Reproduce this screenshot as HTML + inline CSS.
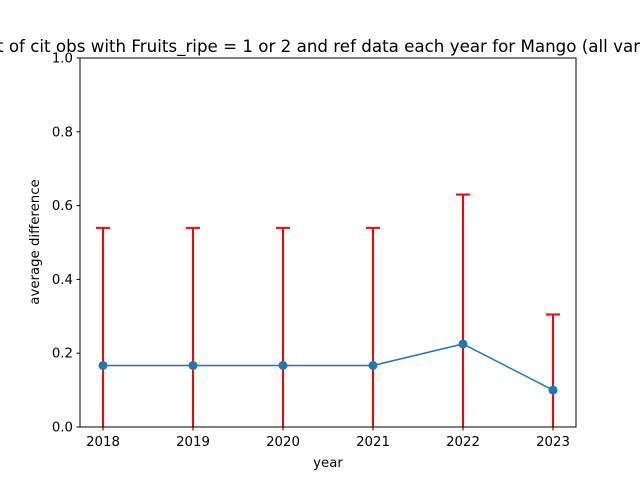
<!DOCTYPE html>
<html><head><meta charset="utf-8"><style>
body{margin:0;background:#fff}
svg text{font-family:"DejaVu Sans","Liberation Sans",sans-serif;fill:#000}
</style></head><body>
<svg width="640" height="480" viewBox="0 0 640 480" xmlns="http://www.w3.org/2000/svg">
<defs><clipPath id="ax"><rect x="80" y="58" width="496" height="369"/></clipPath></defs>
<rect x="0" y="0" width="640" height="480" fill="#fff"/>
<g id="marks" clip-path="url(#ax)"></g>
<rect x="80" y="58" width="496" height="369" fill="none" stroke="#000" stroke-width="1"/>
<g id="ticks"></g>
<text x="-3" y="52" font-size="16.7">t of cit obs with Fruits_ripe = 1 or 2 and ref data each year for Mango (all var</text>
<text x="328" y="467" font-size="13.3" text-anchor="middle">year</text>
<text x="39" y="242" font-size="13.3" text-anchor="middle" transform="rotate(-90 39 242)">average difference</text>
</svg>
<script>
const years=[2018,2019,2020,2021,2022,2023];
const values=[0.1667,0.1667,0.1667,0.1667,0.225,0.1];
const errors=[0.373,0.373,0.373,0.373,0.405,0.205];
const yTicks=[0,0.2,0.4,0.6,0.8,1.0];
const yTickLabels=["0.0","0.2","0.4","0.6","0.8","1.0"];

const NS="http://www.w3.org/2000/svg";
const xs=v=>103+(v-2018)*90;
const ys=v=>427-v*369;
function mk(tag,attrs,parent){const e=document.createElementNS(NS,tag);for(const k in attrs)e.setAttribute(k,attrs[k]);parent.appendChild(e);return e;}
const marks=document.getElementById('marks'),ticks=document.getElementById('ticks');

years.forEach((yr,i)=>{
  const x=xs(yr);
  const t=mk('line',{x1:x,x2:x,y1:427,y2:430.5,stroke:'#000'},ticks);
  
  
  const l=mk('text',{x:x,y:446,'font-size':13.3,'text-anchor':'middle'},ticks);
  l.textContent=yr;
  
  
});
yTicks.forEach((v,i)=>{
  const y=ys(v);
  const t=mk('line',{x1:76.5,x2:80,y1:y,y2:y,stroke:'#000'},ticks);
  
  
  const l=mk('text',{x:73,y:y+4.5,'font-size':13.3,'text-anchor':'end'},ticks);
  l.textContent=yTickLabels[i];
  
  
});

years.forEach((yr,i)=>{
  const x=xs(yr),top=ys(values[i]+errors[i]),bot=ys(values[i]-errors[i]);
  const g=mk('g',{},marks);
  
  
  mk('line',{x1:x,x2:x,y1:top,y2:bot,stroke:'#ff0000','stroke-width':2},g);
  mk('line',{x1:x-7,x2:x+7,y1:top,y2:top,stroke:'#ff0000','stroke-width':2},g);
  mk('line',{x1:x-7,x2:x+7,y1:bot,y2:bot,stroke:'#ff0000','stroke-width':2},g);
});
const line=mk('polyline',{points:years.map((yr,i)=>xs(yr)+','+ys(values[i])).join(' '),fill:'none',stroke:'#1f77b4','stroke-width':1.5},marks);


years.forEach((yr,i)=>{
  const c=mk('circle',{cx:xs(yr),cy:ys(values[i]),r:4.5,fill:'#1f77b4'},marks);
  
  
});
</script>
</body></html>
